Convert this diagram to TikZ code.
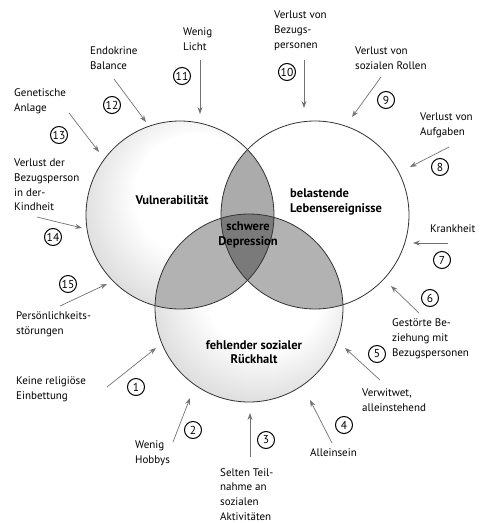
\documentclass[tikz,border=0pt]{standalone}
\usepackage{fontspec}
\setmainfont{PT Sans}
\usetikzlibrary{arrows.meta}
% Punktraster als radiale Schattierung
\pgfdeclareradialshading{punkte}{\pgfpoint{6bp}{8bp}}{color(0bp)=(white); color(16bp)=(white); color(50bp)=(black!34)}
\begin{document}
\begin{tikzpicture}[x=1pt, y=-1pt,
    etikett/.style={anchor=west, align=left, inner sep=0pt, font=\fontsize{11}{14.8}\selectfont},
    kreistext/.style={align=center, inner sep=0pt, font=\bfseries\fontsize{12.5}{14.5}\selectfont},
    nummer/.style={circle, draw, line width=1pt, minimum size=17pt, inner sep=0pt, font=\fontsize{11.5}{12}\selectfont},
    pfeil/.style={draw=black!55, line width=0.7pt, -{Stealth[length=7pt,width=5pt,inset=2.5pt]}},
    rand/.style={draw=black!80, line width=0.8pt}]
    \useasboundingbox (0,0) rectangle (484,523);
    % Radius und Mittelpunkte
    \def\rayon{94}
    \coordinate (L) at (180,215);
    \coordinate (R) at (315,215);
    \coordinate (B) at (249,308);
    % Flaechen
    \shade[shading=punkte] (L) circle (\rayon);
    \shade[shading=punkte] (B) circle (\rayon);
    \begin{scope}
        \clip (L) circle (\rayon);
        \fill[black!33] (R) circle (\rayon);
        \fill[black!30] (B) circle (\rayon);
    \end{scope}
    \begin{scope}
        \clip (R) circle (\rayon);
        \fill[black!30] (B) circle (\rayon);
    \end{scope}
    \begin{scope}
        \clip (L) circle (\rayon);
        \clip (R) circle (\rayon);
        \fill[black!52] (B) circle (\rayon);
    \end{scope}
    % Kreislinien
    \draw[rand] (L) circle (\rayon);
    \draw[rand] (R) circle (\rayon);
    \draw[rand] (B) circle (\rayon);
    % Beschriftung der Kreise
    \node[kreistext] (vul) at (172,200) {Vulnerabilität};
    \node[kreistext, anchor=west, align=left] (bel) at (290,202) {belastende\\Lebensereignisse};
    \node[kreistext] (dep) at (248,235) {schwere\\Depression};
    \node[kreistext] (rue) at (254,352) {fehlender sozialer\\Rückhalt};
    % Faktor 1
    \node[etikett] (t1) at (16,389) {Keine religiöse\\Einbettung};
    \node[nummer] (n1) at (136,387) {1};
    \coordinate (a1) at (107,387); \coordinate (e1) at (156,348);
    \draw[pfeil] (a1) -- (e1);
    % Faktor 2
    \node[etikett] (t2) at (135,453) {Wenig\\Hobbys};
    \node[nummer] (n2) at (193,430) {2};
    \coordinate (a2) at (173,442); \coordinate (e2) at (190,398);
    \draw[pfeil] (a2) -- (e2);
    % Faktor 3
    \node[etikett] (t3) at (220,494.5) {Selten Teil-\\nahme an\\sozialen\\Aktivitäten};
    \node[nummer] (n3) at (266,440) {3};
    \coordinate (a3) at (250,457); \coordinate (e3) at (250,413);
    \draw[pfeil] (a3) -- (e3);
    % Faktor 4
    \node[etikett] (t4) at (310,453) {Alleinsein};
    \node[nummer] (n4) at (344,425) {4};
    \coordinate (a4) at (332,443); \coordinate (e4) at (310,400);
    \draw[pfeil] (a4) -- (e4);
    % Faktor 5
    \node[etikett] (t5) at (362,400) {Verwitwet,\\alleinstehend};
    \node[nummer] (n5) at (377,354) {5};
    \coordinate (a5) at (380,380); \coordinate (e5) at (345,348);
    \draw[pfeil] (a5) -- (e5);
    % Faktor 6
    \node[etikett] (t6) at (392,339) {Gestörte Be-\\ziehung mit\\Bezugspersonen};
    \node[nummer] (n6) at (430,298) {6};
    \coordinate (a6) at (419,313); \coordinate (e6) at (391,286);
    \draw[pfeil] (a6) -- (e6);
    % Faktor 7
    \node[etikett] (t7) at (430,229) {Krankheit};
    \node[nummer] (n7) at (442,260) {7};
    \coordinate (a7) at (448,243); \coordinate (e7) at (413,243);
    \draw[pfeil] (a7) -- (e7);
    % Faktor 8
    \node[etikett] (t8) at (420,125.5) {Verlust von\\Aufgaben};
    \node[nummer] (n8) at (440,167) {8};
    \coordinate (a8) at (449,147); \coordinate (e8) at (410,167);
    \draw[pfeil] (a8) -- (e8);
    % Faktor 9
    \node[etikett] (t9) at (355,58.5) {Verlust von\\sozialen Rollen};
    \node[nummer] (n9) at (386,100) {9};
    \coordinate (a9) at (381,77); \coordinate (e9) at (352,117);
    \draw[pfeil] (a9) -- (e9);
    % Faktor 10
    \node[etikett] (t10) at (274,31) {Verlust von\\Bezugs-\\personen};
    \node[nummer] (n10) at (287,72) {10};
    \coordinate (a10) at (304,60); \coordinate (e10) at (304,108);
    \draw[pfeil] (a10) -- (e10);
    % Faktor 11
    \node[etikett] (t11) at (183,39.5) {Wenig\\Licht};
    \node[nummer] (n11) at (182,76) {11};
    \coordinate (a11) at (200,60); \coordinate (e11) at (200,114);
    \draw[pfeil] (a11) -- (e11);
    % Faktor 12
    \node[etikett] (t12) at (90,58.5) {Endokrine\\Balance};
    \node[nummer] (n12) at (112,105) {12};
    \coordinate (a12) at (114,79); \coordinate (e12) at (146,122);
    \draw[pfeil] (a12) -- (e12);
    % Faktor 13
    \node[etikett] (t13) at (14,101.5) {Genetische\\Anlage};
    \node[nummer] (n13) at (59,135) {13};
    \coordinate (a13) at (69,113); \coordinate (e13) at (99,152);
    \draw[pfeil] (a13) -- (e13);
    % Faktor 14
    \node[etikett] (t14) at (14,185) {Verlust der\\Bezugsperson\\in der-\\Kindheit};
    \node[nummer] (n14) at (53,237) {14};
    \coordinate (a14) at (37,217); \coordinate (e14) at (82,228);
    \draw[pfeil] (a14) -- (e14);
    % Faktor 15
    \node[etikett] (t15) at (16,324.5) {Persönlichkeits-\\störungen};
    \node[nummer] (n15) at (68,284) {15};
    \coordinate (a15) at (60,306); \coordinate (e15) at (107,284);
    \draw[pfeil] (a15) -- (e15);
\end{tikzpicture}
\end{document}
